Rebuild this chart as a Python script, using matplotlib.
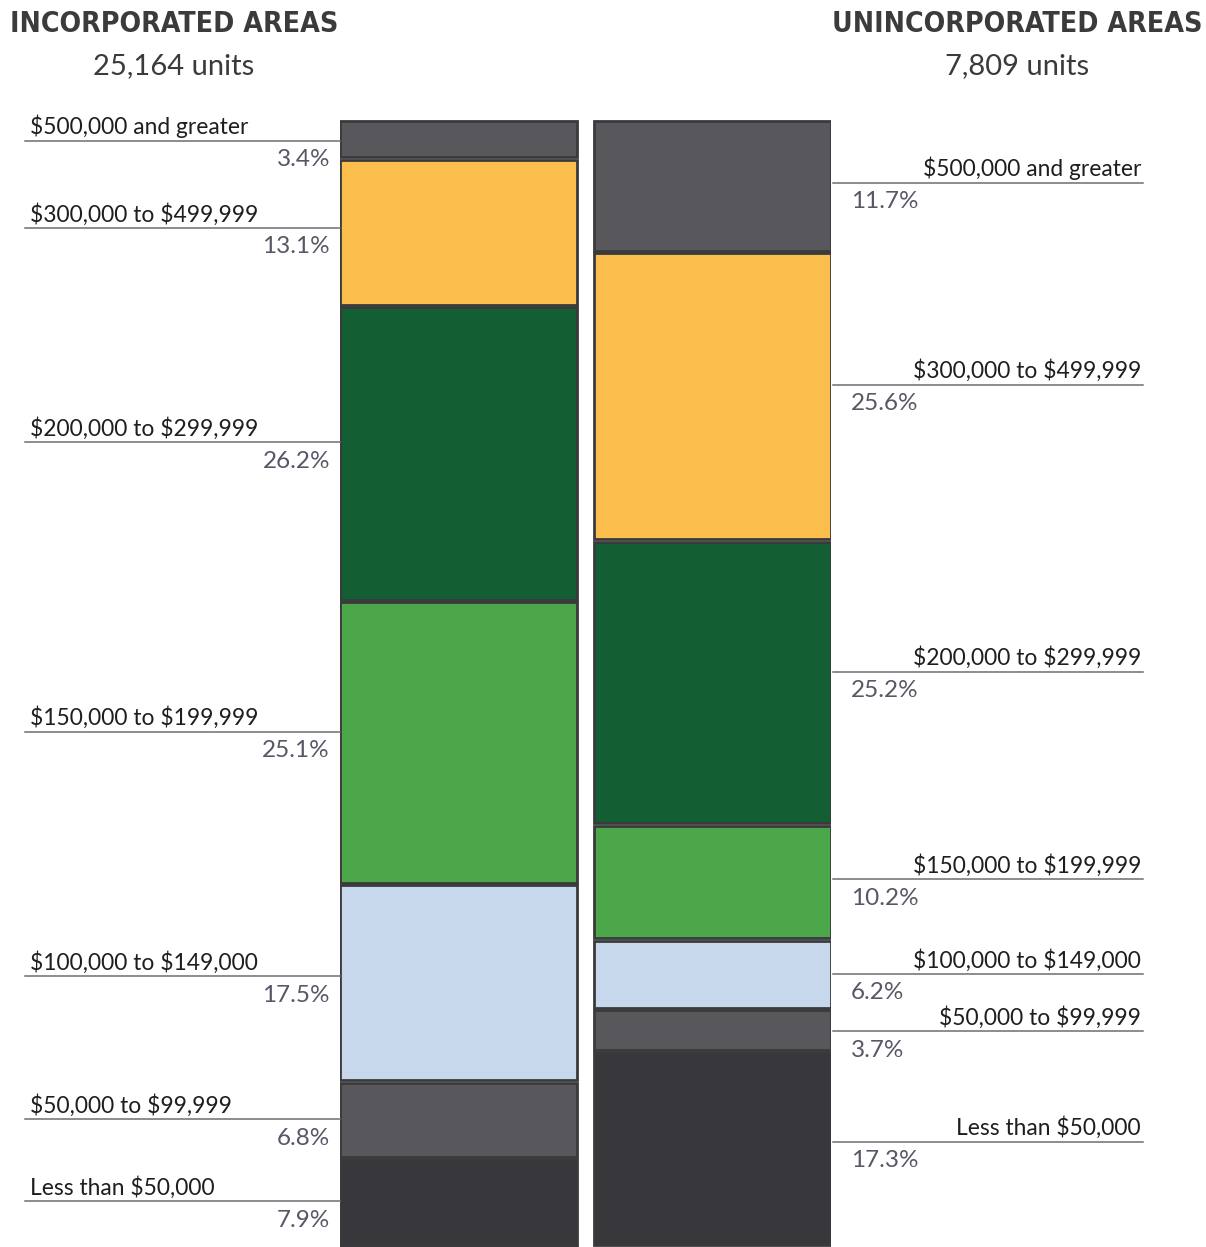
import matplotlib
matplotlib.use("Agg")
import matplotlib.pyplot as plt
import matplotlib.transforms as mtransforms
from matplotlib import font_manager
import numpy as np

# price bands, top of the column first
bands = ["\\$500,000 and greater", "\\$300,000 to \\$499,999", "\\$200,000 to \\$299,999",
         "\\$150,000 to \\$199,999", "\\$100,000 to \\$149,000", "\\$50,000 to \\$99,999",
         "Less than \\$50,000"]
incorporated = [3.4, 13.1, 26.2, 25.1, 17.5, 6.8, 7.9]
unincorporated = [11.7, 25.6, 25.2, 10.2, 6.2, 3.7, 17.3]
groups = ["INCORPORATED AREAS", "UNINCORPORATED AREAS"]
units = ["25,164 units", "7,809 units"]

band_colors = ["#58575c", "#fbbd4c", "#135e32", "#4ba74a", "#c8d8ec", "#58575c", "#38373b"]
EDGE = "#3a3a3d"
TITLE_C = "#3b3b3d"
LABEL_C = "#1e1e1e"
PCT_C = "#5a5666"
LINE_C = "#6e6e70"
FONT = ["Lato", "DejaVu Sans"]

# narrow bold face for the headings if one is around
names = {f.name for f in font_manager.fontManager.ttflist}
if "Liberation Sans Narrow" in names:
    title_kw = dict(family="Liberation Sans Narrow", fontsize=25)
else:
    title_kw = dict(family="DejaVu Sans", fontstretch="condensed", fontsize=20.4)

W, H = 1206, 1247
fig = plt.figure(figsize=(W / 100, H / 100), dpi=100)
fig.patch.set_facecolor("white")

col_left, col_right, col_top = 340, 831, 120
ax = fig.add_axes([col_left / W, 0, (col_right - col_left) / W, (H - col_top) / H])
bar_w = 238 / 255
gap = 0.22  # white seam between segments, in percent units

for xi, vals in enumerate([incorporated, unincorporated]):
    bottoms = np.concatenate([[0], np.cumsum(vals)[:-1]])
    ax.bar([xi] * len(vals), np.array(vals) - gap, bottom=bottoms + gap / 2,
           width=bar_w, color=band_colors, edgecolor=EDGE, linewidth=2)

ax.set_xlim(-bar_w / 2, 1 + bar_w / 2)
ax.set_ylim(100, 0)
ax.axis("off")

# labels with leader lines on either side of the columns
tr = mtransforms.blended_transform_factory(fig.transFigure, ax.transData)
above = mtransforms.offset_copy(tr, fig=fig, y=2, units="points")
below = mtransforms.offset_copy(tr, fig=fig, y=-6, units="points")

sides = [
    dict(vals=incorporated, line=(25, 340), text_x=30, text_ha="left", pct_x=330, pct_ha="right"),
    dict(vals=unincorporated, line=(833, 1143), text_x=1141, text_ha="right", pct_x=851, pct_ha="left"),
]
for side in sides:
    vals = np.array(side["vals"])
    mids = np.cumsum(vals) - vals / 2
    ys = mids - 0.05 * vals + 0.3
    for name, v, y in zip(bands, vals, ys):
        x0, x1 = side["line"]
        ax.plot([x0 / W, x1 / W], [y, y], color=LINE_C, lw=1.1, transform=tr, clip_on=False)
        ax.text(side["text_x"] / W, y, name, transform=above, ha=side["text_ha"], va="bottom",
                fontsize=16.4, color=LABEL_C, family=FONT)
        ax.text(side["pct_x"] / W, y, f"{v:.1f}%", transform=below, ha=side["pct_ha"], va="top",
                fontsize=17.5, color=PCT_C, family=FONT)

# column headings
for cx, g, u in zip([174, 1017], groups, units):
    fig.text(cx / W, 1 - 24 / H, g, ha="center", va="center",
             fontweight="bold", color=TITLE_C, **title_kw)
    fig.text(cx / W, 1 - 66 / H, u, ha="center", va="center", fontsize=21,
             color=TITLE_C, family=FONT)

fig.savefig("out.png", dpi=100, facecolor="white")
